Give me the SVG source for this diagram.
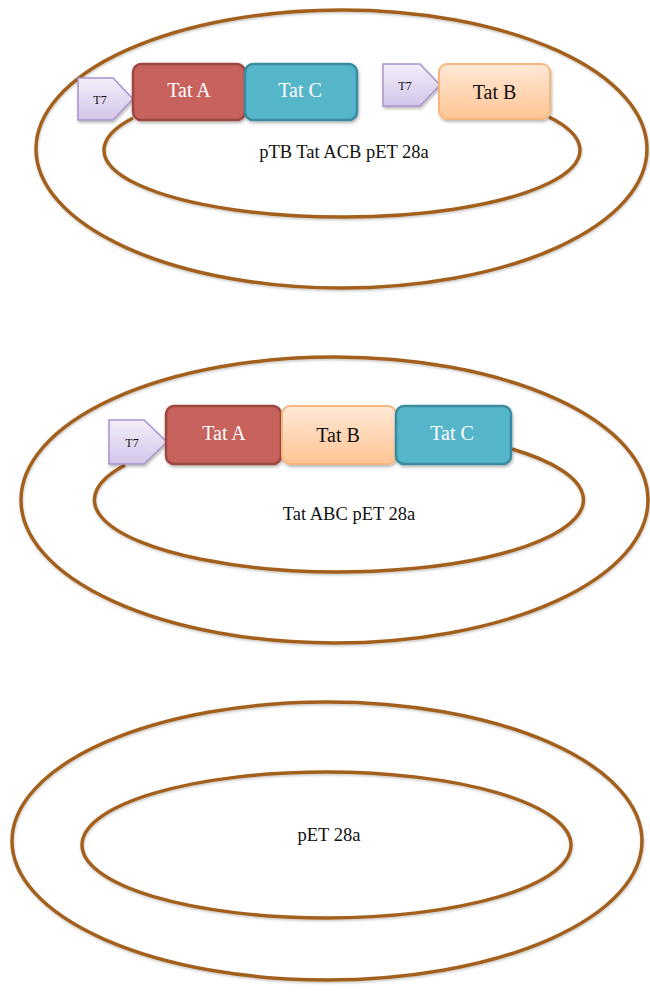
<svg xmlns="http://www.w3.org/2000/svg" width="650" height="993" viewBox="0 0 650 993">
  <defs>
    <linearGradient id="gPeach" x1="0" y1="0" x2="0" y2="1">
      <stop offset="0" stop-color="#FFE8D6"/>
      <stop offset="1" stop-color="#FFC594"/>
    </linearGradient>
    <linearGradient id="gLav" x1="0" y1="0" x2="0" y2="1">
      <stop offset="0" stop-color="#F3EEF9"/>
      <stop offset="1" stop-color="#D3C5EA"/>
    </linearGradient>
    <filter id="shadow" x="-20%" y="-20%" width="140%" height="150%">
      <feDropShadow dx="1" dy="2" stdDeviation="1.5" flood-color="#000" flood-opacity="0.28"/>
    </filter>
    <filter id="tubeShadow" x="-5%" y="-5%" width="110%" height="115%">
      <feDropShadow dx="0.5" dy="1.5" stdDeviation="1" flood-color="#000" flood-opacity="0.22"/>
    </filter>
  </defs>
  <style>
    .dna { fill: none; stroke: #A3611F; stroke-width: 3.5; filter: url(#tubeShadow); }
    .tatA { fill: #C8625C; stroke: #9C4641; stroke-width: 2.5; filter: url(#shadow); }
    .tatB { fill: url(#gPeach); stroke: #F4B87F; stroke-width: 2; filter: url(#shadow); }
    .tatC { fill: #55B6CA; stroke: #3B8B9E; stroke-width: 2.5; filter: url(#shadow); }
    .t7 { fill: url(#gLav); stroke: #A894CB; stroke-width: 1.5; filter: url(#shadow); }
    .lbl { font-family: "Liberation Serif", "Times New Roman", serif; font-size: 20px; text-anchor: middle; }
    .light { fill: #FFFFFF; }
    .dark { fill: #111111; }
    .t7txt { font-family: "Liberation Serif", "Times New Roman", serif; font-size: 12px; text-anchor: middle; fill: #111111; }
    .name { font-family: "Liberation Serif", "Times New Roman", serif; font-size: 18.5px; text-anchor: middle; fill: #111111; }
  </style>
  <rect width="650" height="993" fill="#FFFFFF"/>

  <!-- plasmid backbones -->
  <g id="connectors">
    <ellipse class="dna" cx="341.5" cy="149" rx="305.5" ry="139"/>
    <path class="dna" d="M133,118 A238,67 0 1 0 549,117"/>
    <line class="dna" x1="356" y1="77.5" x2="384" y2="77.5"/>

    <ellipse class="dna" cx="334.5" cy="500" rx="313.5" ry="143"/>
    <path class="dna" d="M125,465 A244.5,72 0 1 0 512,449"/>

    <ellipse class="dna" cx="327" cy="841" rx="315" ry="139"/>
    <ellipse class="dna" cx="326.5" cy="845" rx="244.5" ry="73"/>
  </g>

  <!-- pTB Tat ACB pET 28a -->
  <g id="p1-t7a">
    <polygon class="t7" points="78,78 113,78 133,99 113,120 78,120"/>
    <text class="t7txt" x="100" y="104">T7</text>
  </g>
  <g id="p1-tatA">
    <rect class="tatA" x="133" y="64" width="112" height="56" rx="8"/>
    <text class="lbl light" x="189" y="97">Tat A</text>
  </g>
  <g id="p1-tatC">
    <rect class="tatC" x="245" y="64" width="112" height="56" rx="8"/>
    <text class="lbl light" x="300" y="97">Tat C</text>
  </g>
  <g id="p1-t7b">
    <polygon class="t7" points="383,64 420,64 440,85 420,106 383,106"/>
    <text class="t7txt" x="405" y="90">T7</text>
  </g>
  <g id="p1-tatB">
    <rect class="tatB" x="439" y="64" width="111" height="55" rx="8"/>
    <text class="lbl dark" x="494.5" y="99">Tat B</text>
  </g>
  <text id="p1-name" class="name" x="344" y="158">pTB Tat ACB pET 28a</text>

  <!-- Tat ABC pET 28a -->
  <g id="p2-t7">
    <polygon class="t7" points="109,420 144,420 167,442 144,464 109,464"/>
    <text class="t7txt" x="132" y="447">T7</text>
  </g>
  <g id="p2-tatA">
    <rect class="tatA" x="166" y="406" width="115" height="58" rx="8"/>
    <text class="lbl light" x="224" y="440">Tat A</text>
  </g>
  <g id="p2-tatB">
    <rect class="tatB" x="282" y="406" width="114" height="58" rx="8"/>
    <text class="lbl dark" x="338" y="442">Tat B</text>
  </g>
  <g id="p2-tatC">
    <rect class="tatC" x="396" y="406" width="115" height="58" rx="8"/>
    <text class="lbl light" x="452" y="440">Tat C</text>
  </g>
  <text id="p2-name" class="name" x="349" y="520">Tat ABC pET 28a</text>

  <!-- pET 28a -->
  <text id="p3-name" class="name" x="329" y="841">pET 28a</text>
</svg>
